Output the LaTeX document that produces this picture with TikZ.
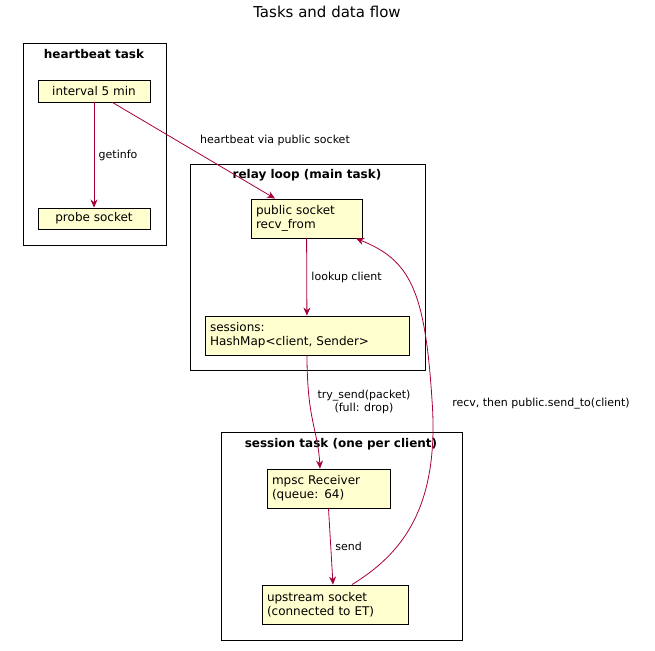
\documentclass[tikz,border=0pt]{standalone}
\usepackage{fontspec}
\setmainfont{DejaVu Sans}
\usetikzlibrary{arrows.meta}
\definecolor{edge}{HTML}{A80036}
\definecolor{boxfill}{HTML}{FEFECE}
\begin{document}
\begin{tikzpicture}[x=1pt,y=-1pt,
  frame/.style={draw,line width=1pt},
  ftitle/.style={font=\fontsize{12}{14}\selectfont\bfseries},
  comp/.style={draw,fill=boxfill,line width=0.9pt,inner sep=0pt,font=\fontsize{12}{14}\selectfont,align=left},
  conn/.style={draw=edge,line width=0.8pt,-{Stealth[length=8pt,width=7pt]}},
  elabel/.style={font=\fontsize{11}{13}\selectfont,align=center}]
\useasboundingbox (0,0) rectangle (655,650);
\node[font=\fontsize{15}{18}\selectfont] (title) at (327,12) {Tasks and data flow};
% frames
\draw[frame] (23,44) rectangle (166,245);
\node[ftitle] (t1) at (94,54) {heartbeat task};
\draw[frame] (190,164) rectangle (425,370);
\node[ftitle] (t2) at (307,175) {relay loop (main task)};
\draw[frame] (221,432) rectangle (462,640);
\node[ftitle] (t3) at (341,444) {session task (one per client)};
% components
\node[comp,minimum width=112pt,minimum height=22pt,align=center] (iv) at (94,91) {interval 5 min};
\node[comp,minimum width=112pt,minimum height=21pt,align=center] (pr) at (94,218.5) {probe socket};
\node[comp,minimum width=111pt,minimum height=39pt,text width=101pt] (pub) at (306.5,218.5) {public socket\\recv\_from};
\node[comp,minimum width=204pt,minimum height=39pt,text width=194pt] (ses) at (307,335.5) {sessions:\\HashMap<client, Sender>};
\node[comp,minimum width=123pt,minimum height=39pt,text width=113pt] (mp) at (328.5,488.5) {mpsc Receiver\\(queue: 64)};
\node[comp,minimum width=146pt,minimum height=39pt,text width=136pt] (up) at (335,604.5) {upstream socket\\(connected to ET)};
% edges
\draw[conn] (iv) -- node[elabel,right,xshift=1pt]{getinfo} (pr);
\draw[conn] (iv.south east)++(-38,0) -- (pub.north west -| 275,0) coordinate (pe);
\node[elabel] (l1) at (275,140) {heartbeat via public socket};
\draw[conn] (pub) -- node[elabel,right,xshift=1pt]{lookup client} (ses);
\draw[conn] (ses.south) .. controls (307,420) and (318,430) .. (mp.north -| 320,0);
\node[elabel] (l2) at (364,402) {try\_send(packet)\\(full: drop)};
\draw[conn] (mp.south) -- node[elabel,right,xshift=1pt]{send} (up.north -| 333,0);
\draw[conn] (up.north -| 352,0) .. controls (400,555) and (440,510) .. (432,400) .. controls (425,290) and (410,260) .. (pub.south east -| 356,0);
\node[elabel] (l3) at (541,404) {recv, then public.send\_to(client)};
\end{tikzpicture}
\end{document}
